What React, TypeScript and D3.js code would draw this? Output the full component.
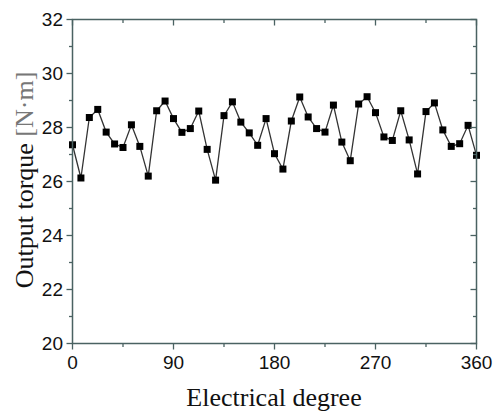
import React from 'react';
import * as d3 from 'd3';

// electrical degree of each sample
const degrees = [
  0, 7.5, 15, 22.5, 30, 37.5, 45, 52.5, 60, 67.5, 75, 82.5, 90, 97.5, 105, 112.5,
  120, 127.5, 135, 142.5, 150, 157.5, 165, 172.5, 180, 187.5, 195, 202.5, 210,
  217.5, 225, 232.5, 240, 247.5, 255, 262.5, 270, 277.5, 285, 292.5, 300, 307.5,
  315, 322.5, 330, 337.5, 345, 352.5, 360,
];

// output torque [N·m]
const torque = [
  27.36, 26.13, 28.37, 28.67, 27.83, 27.39, 27.26, 28.1, 27.3, 26.2, 28.62, 28.98,
  28.33, 27.82, 27.96, 28.61, 27.19, 26.05, 28.44, 28.95, 28.2, 27.8, 27.34, 28.33,
  27.03, 26.46, 28.24, 29.13, 28.39, 27.96, 27.83, 28.83, 27.46, 26.77, 28.87, 29.14,
  28.55, 27.65, 27.52, 28.62, 27.54, 26.28, 28.59, 28.91, 27.91, 27.3, 27.4, 28.08,
  26.97,
];

const xTicks = [0, 90, 180, 270, 360];
const xMinor = [45, 135, 225, 315];
const yTicks = [20, 22, 24, 26, 28, 30, 32];
const yMinor = [21, 23, 25, 27, 29, 31];

const W = 495;
const H = 415;
const left = 72.5, right = 476.5, top = 19.5, bottom = 343.5;
const axisColor = '#4a6262';
const sans = '"Liberation Sans", Arial, sans-serif';
const serif = '"Liberation Serif", "Times New Roman", serif';

export default function App() {
  const x = d3.scaleLinear().domain([0, 360]).range([left, right]);
  const y = d3.scaleLinear().domain([20, 32]).range([bottom, top]);

  const pts = degrees.map((d, i) => [d, torque[i]] as [number, number]);
  const line = d3.line<[number, number]>().x(d => x(d[0])).y(d => y(d[1]));

  const major = 6;
  const minor = 3.5;

  return (
    <svg width={W} height={H} style={{ position: 'absolute', left: 0, top: 0, background: '#fff' }}>
      {/* data */}
      <path d={line(pts) || ''} fill="none" stroke="#333" strokeWidth={1.3} />
      {pts.map((p, i) => (
        <rect key={i} x={x(p[0]) - 3.5} y={y(p[1]) - 3.5} width={7} height={7} fill="#000" />
      ))}

      {/* frame */}
      <rect x={left} y={top} width={right - left} height={bottom - top}
        fill="none" stroke={axisColor} strokeWidth={1.5} />

      {/* x ticks */}
      {xTicks.map(t => (
        <g key={'x' + t}>
          <line x1={x(t)} x2={x(t)} y1={bottom} y2={bottom + major} stroke={axisColor} strokeWidth={1.3} />
          <line x1={x(t)} x2={x(t)} y1={top} y2={top + major} stroke={axisColor} strokeWidth={1.3} />
          <text x={x(t)} y={369} textAnchor="middle" fontFamily={sans} fontSize={19} fill="#111">{t}</text>
        </g>
      ))}
      {xMinor.map(t => (
        <g key={'xm' + t}>
          <line x1={x(t)} x2={x(t)} y1={bottom} y2={bottom + minor} stroke={axisColor} strokeWidth={1.3} />
          <line x1={x(t)} x2={x(t)} y1={top} y2={top + minor} stroke={axisColor} strokeWidth={1.3} />
        </g>
      ))}

      {/* y ticks */}
      {yTicks.map(t => (
        <g key={'y' + t}>
          <line x1={left - major} x2={left} y1={y(t)} y2={y(t)} stroke={axisColor} strokeWidth={1.3} />
          <line x1={right - major} x2={right} y1={y(t)} y2={y(t)} stroke={axisColor} strokeWidth={1.3} />
          <text x={63} y={y(t)} dy="0.36em" textAnchor="end" fontFamily={sans} fontSize={19} fill="#111">{t}</text>
        </g>
      ))}
      {yMinor.map(t => (
        <g key={'ym' + t}>
          <line x1={left - minor} x2={left} y1={y(t)} y2={y(t)} stroke={axisColor} strokeWidth={1.3} />
          <line x1={right - minor} x2={right} y1={y(t)} y2={y(t)} stroke={axisColor} strokeWidth={1.3} />
        </g>
      ))}

      {/* axis titles */}
      <text x={274} y={406} textAnchor="middle" fontFamily={serif} fontSize={26} fill="#111">
        Electrical degree
      </text>
      <text transform="translate(33,180) rotate(-90)" textAnchor="middle" fontFamily={serif} fontSize={26} fill="#111">
        Output torque <tspan fill="#777">[N·m]</tspan>
      </text>
    </svg>
  );
}
